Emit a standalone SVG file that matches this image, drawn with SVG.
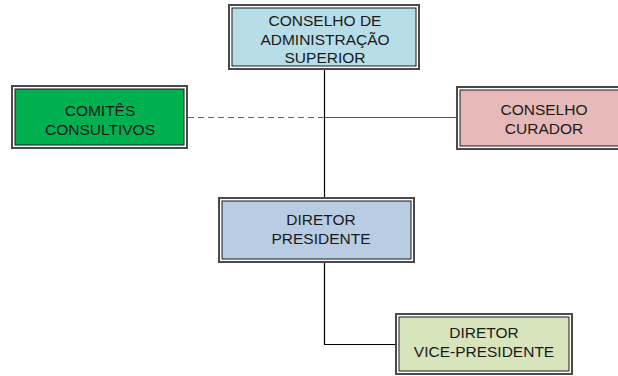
<svg xmlns="http://www.w3.org/2000/svg" width="618" height="376" viewBox="0 0 618 376">
<style>
.o{fill:#ffffff;stroke:#4a4a4a;stroke-width:2}
.i{stroke:#1a1a1a;stroke-width:1}
text{font-family:"Liberation Sans",Arial,sans-serif;font-size:15.5px;fill:#1a1a1a;text-anchor:middle}
.c{fill:none;stroke-width:1.2}
</style>
<rect width="618" height="376" fill="#ffffff"/>
<g id="connectors">
<line class="c" x1="324.5" y1="69" x2="324.5" y2="198" stroke="#000"/>
<line class="c" x1="188" y1="117.5" x2="324" y2="117.5" stroke="#666" stroke-dasharray="6,4"/>
<line class="c" x1="325" y1="117.5" x2="457" y2="117.5" stroke="#555"/>
<polyline class="c" points="324.5,262 324.5,344.5 396,344.5" stroke="#000"/>
</g>
<g id="conselho-administracao">
<rect class="o" x="229" y="5" width="190" height="64"/>
<rect class="i" x="232" y="8" width="184" height="58" fill="#b7dde8"/>
<text x="325" y="26">CONSELHO DE</text>
<text x="325" y="44.5">ADMINISTRAÇÃO</text>
<text x="325" y="63">SUPERIOR</text>
</g>
<g id="comites">
<rect class="o" x="12" y="86" width="175" height="62"/>
<rect class="i" x="15" y="89" width="169" height="56" fill="#00b050"/>
<text x="100" y="116">COMITÊS</text>
<text x="100" y="134.5">CONSULTIVOS</text>
</g>
<g id="conselho-curador">
<rect class="o" x="457" y="87" width="175" height="62"/>
<rect class="i" x="460" y="90" width="169" height="56" fill="#e6b8b7"/>
<text x="544" y="115">CONSELHO</text>
<text x="544" y="133.5">CURADOR</text>
</g>
<g id="diretor-presidente">
<rect class="o" x="219" y="198" width="195" height="64"/>
<rect class="i" x="222" y="201" width="189" height="58" fill="#b8cce4"/>
<text x="321" y="225">DIRETOR</text>
<text x="321" y="243.5">PRESIDENTE</text>
</g>
<g id="diretor-vice">
<rect class="o" x="396" y="314" width="176" height="60"/>
<rect class="i" x="399" y="317" width="170" height="54" fill="#d7e4bc"/>
<text x="484" y="338">DIRETOR</text>
<text x="484" y="356.5">VICE-PRESIDENTE</text>
</g>
</svg>
